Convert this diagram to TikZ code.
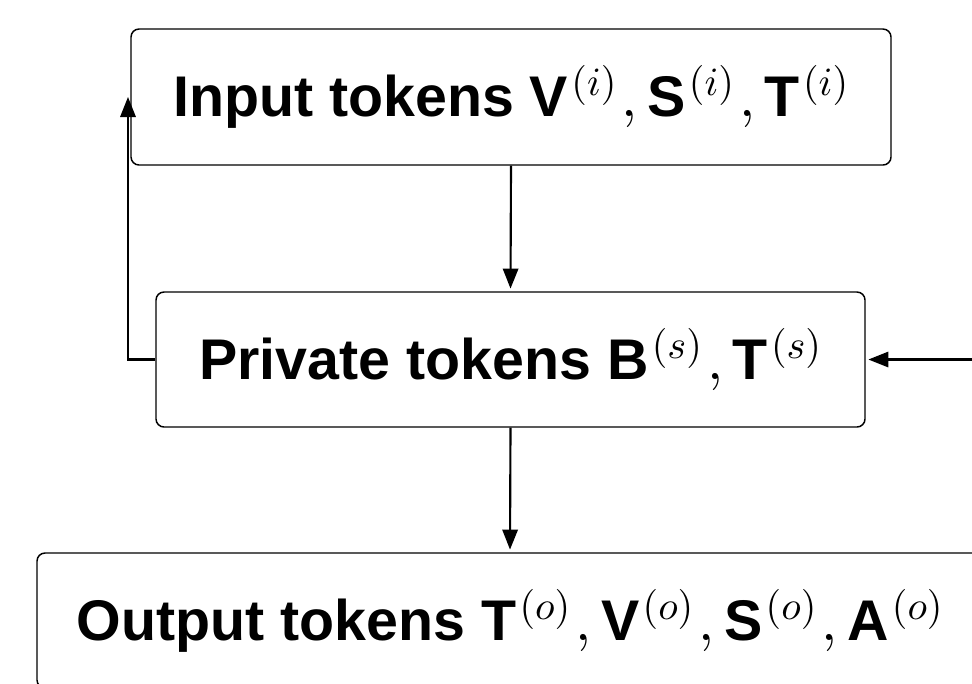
\RequirePackage{fix-cm}
\documentclass[tikz,border=0pt]{standalone}
\usepackage[no-math]{fontspec}
\setmainfont{Liberation Sans}
\usetikzlibrary{arrows.meta}
\DeclareFontShape{OML}{cmm}{m}{it}{<-> cmmi10}{}
\DeclareFontShape{OT1}{cmr}{m}{n}{<-> cmr10}{}
\newcommand{\supx}[1]{\kern2.5pt$^{(#1)}$}
\newcommand{\cmx}{\kern3.5pt$,$\,}
\begin{document}
\begin{tikzpicture}[x=0.75pt,y=-0.75pt,
  box/.style={draw, line width=1.1pt, rounded corners=6pt, inner sep=0pt,
    font=\fontsize{43}{51}\selectfont\bfseries},
  conn/.style={line width=1.6pt, -{Triangle[length=15pt,width=11.5pt]}, shorten >=2pt}]
\useasboundingbox (0,0) rectangle (972,683);
\node[box, minimum width=570pt, minimum height=102pt] (inp) at (511,97)
  {Input tokens V\supx{i}\cmx S\supx{i}\cmx T\supx{i}};
\node[box, minimum width=531.75pt, minimum height=101.25pt] (priv) at (510.5,359.5)
  {Private tokens B\supx{s}\cmx T\supx{s}};
\node[box, minimum width=709.5pt, minimum height=101.25pt] (out) at (510,620.5)
  {Output tokens T\supx{o}\cmx V\supx{o}\cmx S\supx{o}\cmx A\supx{o}};
\coordinate (L) at (128,97);
\coordinate (R) at (980,359.5);
\draw[conn] (inp.south) -- (priv.north);
\draw[conn] (priv.south) -- (out.north);
\draw[conn, shorten >=0pt] (priv.west) -| (L);
\draw[conn] (R) -- (priv.east);
\end{tikzpicture}
\end{document}
